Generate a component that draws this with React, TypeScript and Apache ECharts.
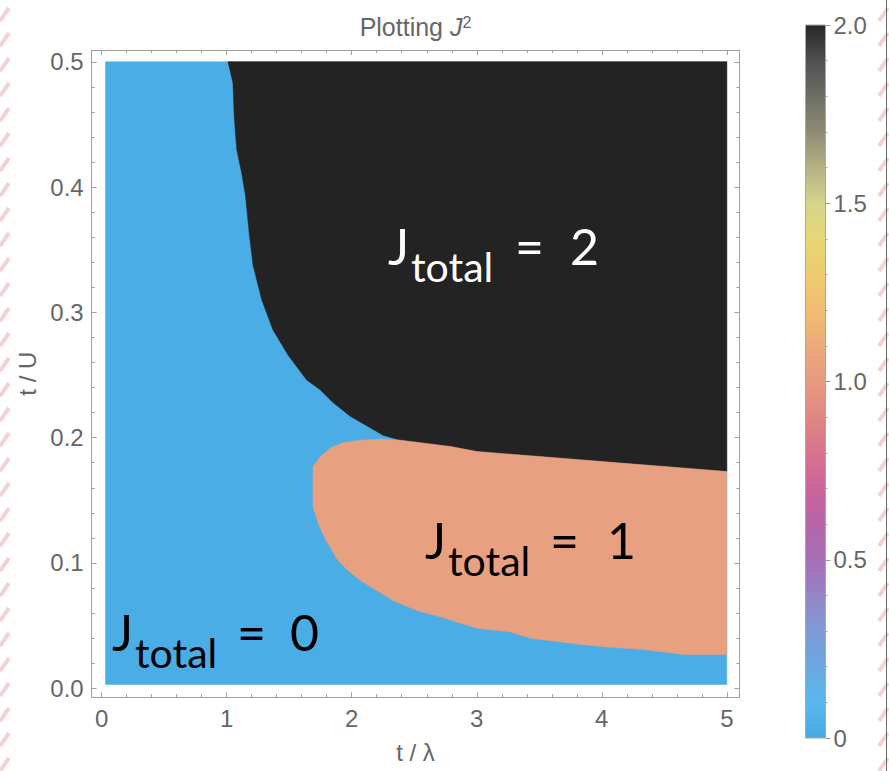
import React, { useEffect, useRef } from 'react';
import * as echarts from 'echarts';

// ---------- data ----------
const xMajorTicks = [0, 1, 2, 3, 4, 5];
const xMinorTicks = [0.2, 0.4, 0.6, 0.8, 1.2, 1.4, 1.6, 1.8, 2.2, 2.4, 2.6, 2.8, 3.2, 3.4, 3.6, 3.8, 4.2, 4.4, 4.6, 4.8];
const yMajorTicks = [0, 0.1, 0.2, 0.3, 0.4, 0.5];
const yMinorTicks = [0.02, 0.04, 0.06, 0.08, 0.12, 0.14, 0.16, 0.18, 0.22, 0.24, 0.26, 0.28, 0.32, 0.34, 0.36, 0.38, 0.42, 0.44, 0.46, 0.48];

// sampled domain of the density plot (J = 0 background)
const domainCorners: [number, number][] = [[0.03, 0.003], [5, 0.003], [5, 0.5], [0.03, 0.5]];

// boundary of the J_total = 2 region (from the top edge down to the right edge)
const j2Boundary: [number, number][] = [
  [1.01, 0.5], [1.05, 0.483], [1.06, 0.456], [1.08, 0.43], [1.12, 0.411], [1.15, 0.393],
  [1.18, 0.363], [1.21, 0.338], [1.28, 0.31], [1.37, 0.286], [1.49, 0.266], [1.64, 0.246],
  [1.75, 0.238], [1.85, 0.228], [1.99, 0.217], [2.13, 0.209], [2.25, 0.202], [2.39, 0.198],
  [2.79, 0.193], [3.0, 0.189], [3.5, 0.185], [4.0, 0.181], [4.5, 0.177], [5.0, 0.173], [5.0, 0.5],
];

// J_total = 1 region: upper edge (left to right), lower edge (right to left)
const j1Upper: [number, number][] = [
  [1.69, 0.166], [1.69, 0.177], [1.75, 0.185], [1.83, 0.192], [1.93, 0.196], [2.07, 0.198],
  [2.23, 0.199], [2.39, 0.198], [2.79, 0.193], [3.0, 0.189], [3.5, 0.185], [4.0, 0.181],
  [4.5, 0.177], [5.0, 0.173],
];
const j1Lower: [number, number][] = [
  [5.0, 0.027], [4.65, 0.027], [4.33, 0.031], [4.04, 0.033], [3.83, 0.035], [3.43, 0.04],
  [3.27, 0.045], [3.0, 0.048], [2.71, 0.057], [2.52, 0.062], [2.33, 0.07], [2.2, 0.078],
  [2.07, 0.086], [1.97, 0.094], [1.89, 0.102], [1.79, 0.119], [1.73, 0.132], [1.69, 0.145],
];

const regionColors = ['#4AADE6', '#E7A080', '#232323'];
const regionLabelValues = ['2', '1', '0'];

const colorbarTicks = [0, 0.5, 1.0, 1.5, 2.0];
const colorbarStops: [number, string][] = [
  [0.0, '#47a8e2'], [0.1, '#5bb8eb'], [0.2, '#6aa8e0'], [0.3, '#7f9ad6'], [0.4, '#9385c6'],
  [0.5, '#a56fb6'], [0.6, '#b865a8'], [0.7, '#c9649a'], [0.8, '#d6738e'], [0.9, '#e08785'],
  [1.0, '#e69a80'], [1.1, '#eca97a'], [1.2, '#f0bd72'], [1.3, '#eecb6f'], [1.4, '#e6d677'],
  [1.5, '#d6d48c'], [1.6, '#b5b285'], [1.7, '#8d8b74'], [1.8, '#6e6e66'], [1.9, '#505050'],
  [2.0, '#262626'],
];

// ---------- styles ----------
const FONT = '"Liberation Sans", Arial, sans-serif';
const LFONT = 'Lato, "Open Sans", sans-serif';
const axisGray = '#a0a0a0';
const labelGray = '#666666';

export default function App() {
  const ref = useRef<HTMLDivElement>(null);

  useEffect(() => {
    if (!ref.current) return;
    const chart = echarts.init(ref.current, undefined, { renderer: 'svg' });

    const xBase = { type: 'value', gridIndex: 0, min: -0.08, max: 5.1, splitLine: { show: false } };
    const yBase = { type: 'value', gridIndex: 0, min: -0.0072, max: 0.5094, splitLine: { show: false } };
    const tick = (vals: number[], len: number) => ({
      show: true, inside: true, length: len, customValues: vals, lineStyle: { color: axisGray, width: 1 },
    });
    const line = (show: boolean) => ({ show, onZero: false, lineStyle: { color: axisGray, width: 1 } });

    const polygon = (pts: [number, number][], color: string) => ({
      type: 'custom',
      xAxisIndex: 0,
      yAxisIndex: 0,
      silent: true,
      data: [pts[0]],
      renderItem: (_p: any, api: any) => ({
        type: 'polygon',
        shape: { points: pts.map((p) => api.coord(p)) },
        style: { fill: color, stroke: color, lineWidth: 0.5 },
      }),
    });

    const grad = new echarts.graphic.LinearGradient(
      0, 1, 0, 0,
      colorbarStops.map(([v, c]) => ({ offset: v / 2, color: c }))
    );

    const graphics: any[] = [];
    // background hatch decoration (left and right edges)
    for (let k = -1; k < 32; k++) {
      const y = 8 + k * 25;
      graphics.push({ type: 'line', silent: true, shape: { x1: 0, y1: y + 13, x2: 9, y2: y }, style: { stroke: '#f5d2d2', lineWidth: 4 } });
      graphics.push({ type: 'line', silent: true, shape: { x1: 879, y1: y + 13, x2: 888, y2: y }, style: { stroke: '#f5d2d2', lineWidth: 4 } });
    }
    graphics.push({ type: 'line', silent: true, shape: { x1: 886.5, y1: 0, x2: 886.5, y2: 771 }, style: { stroke: '#6a6a6a', lineWidth: 1 } });

    // title
    graphics.push({
      type: 'text', silent: true, z: 100,
      style: {
        x: 415.5, y: 27, align: 'center', verticalAlign: 'middle',
        text: '{a|Plotting }{b|J}{c|2}',
        rich: {
          a: { fontSize: 25, fontFamily: FONT, fill: labelGray },
          b: { fontSize: 25, fontFamily: FONT, fontStyle: 'italic', fill: labelGray },
          c: { fontSize: 16, fontFamily: FONT, fill: labelGray, verticalAlign: 'top' },
        },
      },
    });

    // region annotations
    const annotationLayout = [
      { color: '#ffffff', jx: 388, sx: 411, ex: 515, nx: 570, base: 265 },
      { color: '#000000', jx: 425, sx: 448, ex: 550, nx: 607, base: 559 },
      { color: '#000000', jx: 112, sx: 135, ex: 237, nx: 290, base: 651 },
    ];
    const MAIN = 50;
    const SUB = 41;
    annotationLayout.forEach((a, i) => {
      const mk = (text: string, x: number, base: number, size: number) => ({
        type: 'text', silent: true, z: 100,
        style: {
          x, y: base - 0.387 * size, text, align: 'left', verticalAlign: 'middle',
          fontSize: size, fontFamily: LFONT, fill: a.color,
        },
      });
      graphics.push(mk('J', a.jx, a.base, MAIN));
      graphics.push(mk('total', a.sx, a.base + 17, SUB));
      graphics.push(mk('=', a.ex, a.base, MAIN));
      graphics.push(mk(regionLabelValues[i], a.nx, a.base, MAIN));
    });

    chart.setOption({
      animation: false,
      backgroundColor: '#ffffff',
      grid: [
        { left: 91.7, top: 50, width: 647.6, height: 647.3, containLabel: false },
        { left: 805.5, top: 25, width: 20, height: 713, containLabel: false },
      ],
      xAxis: [
        {
          ...xBase, position: 'bottom', axisLine: line(true), axisTick: tick(xMajorTicks, 5),
          axisLabel: { show: true, customValues: xMajorTicks, formatter: (v: number) => String(v), fontSize: 24, color: labelGray, fontFamily: FONT, margin: 9 },
          name: 't / λ', nameLocation: 'middle', nameGap: 43,
          nameTextStyle: { fontSize: 24, color: labelGray, fontFamily: FONT },
        },
        { ...xBase, position: 'bottom', axisLine: line(false), axisTick: tick(xMinorTicks, 3), axisLabel: { show: false } },
        { ...xBase, position: 'top', axisLine: line(true), axisTick: tick(xMajorTicks, 5), axisLabel: { show: false } },
        { ...xBase, position: 'top', axisLine: line(false), axisTick: tick(xMinorTicks, 3), axisLabel: { show: false } },
        { type: 'value', gridIndex: 1, min: 0, max: 1, show: false },
      ],
      yAxis: [
        {
          ...yBase, position: 'left', axisLine: line(true), axisTick: tick(yMajorTicks, 5),
          axisLabel: { show: true, customValues: yMajorTicks, formatter: (v: number) => v.toFixed(1), fontSize: 24, color: labelGray, fontFamily: FONT, margin: 8 },
          name: 't / U', nameLocation: 'middle', nameGap: 50,
          nameTextStyle: { fontSize: 24, color: labelGray, fontFamily: FONT },
        },
        { ...yBase, position: 'left', axisLine: line(false), axisTick: tick(yMinorTicks, 3), axisLabel: { show: false } },
        { ...yBase, position: 'right', axisLine: line(true), axisTick: tick(yMajorTicks, 5), axisLabel: { show: false } },
        { ...yBase, position: 'right', axisLine: line(false), axisTick: tick(yMinorTicks, 3), axisLabel: { show: false } },
        {
          type: 'value', gridIndex: 1, position: 'right', min: 0, max: 2, interval: 0.5,
          splitLine: { show: false },
          axisLine: { show: false, onZero: false },
          axisTick: { show: true, inside: false, length: 5, customValues: colorbarTicks, lineStyle: { color: '#999' } },
          minorTick: { show: true, splitNumber: 5, length: 2, lineStyle: { color: '#999' } },
          axisLabel: {
            show: true, customValues: colorbarTicks,
            formatter: (v: number) => (v === 0 ? '0' : v.toFixed(1)),
            fontSize: 24, color: labelGray, fontFamily: FONT, margin: 8,
          },
        },
      ],
      series: [
        polygon(domainCorners, regionColors[0]),
        polygon(j2Boundary, regionColors[2]),
        polygon([...j1Upper, ...j1Lower], regionColors[1]),
        {
          type: 'custom',
          xAxisIndex: 4,
          yAxisIndex: 4,
          silent: true,
          data: [[0, 0]],
          renderItem: (_p: any, api: any) => {
            const p0 = api.coord([0, 0]);
            const p1 = api.coord([1, 2]);
            return {
              type: 'rect',
              shape: { x: p0[0], y: p1[1], width: p1[0] - p0[0], height: p0[1] - p1[1] },
              style: { fill: grad, stroke: '#a8a8a8', lineWidth: 1 },
            };
          },
        },
      ],
      graphic: graphics,
    });

    return () => chart.dispose();
  }, []);

  return (
    <div
      ref={ref}
      style={{ position: 'absolute', left: 0, top: 0, width: 889, height: 771, background: '#fff' }}
    />
  );
}
